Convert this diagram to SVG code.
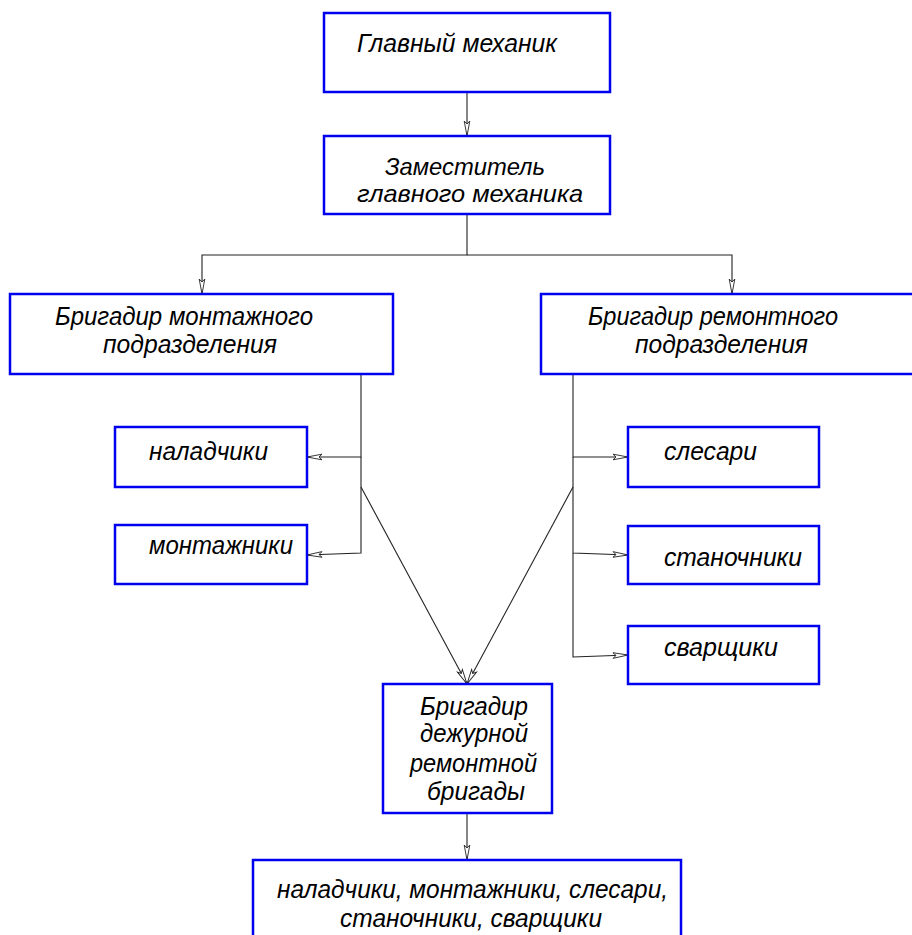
<svg xmlns="http://www.w3.org/2000/svg" width="912" height="935" viewBox="0 0 912 935">
<defs>
<marker id="arr" markerUnits="userSpaceOnUse" markerWidth="18" markerHeight="8" viewBox="-1 -4 18 8" refX="15" refY="0" orient="auto">
<path d="M15,0 L0,-2.8 L3,0 L0,2.8 Z" fill="#fff" stroke="#222" stroke-width="0.9"/>
</marker>
</defs>
<style>
.box{fill:#fff;stroke:#0000ee;stroke-width:2.5}
.t{font-family:"Liberation Sans",Arial,sans-serif;font-style:italic;font-size:26px;fill:#000}
.s{font-size:24px}
.c{fill:none;stroke:#222;stroke-width:1.1}
</style>
<rect width="912" height="935" fill="#fff"/>
<g id="connectors">
<line class="c" x1="467" y1="92" x2="467" y2="136" marker-end="url(#arr)"/>
<polyline class="c" points="467,214 467,255 202,255 202,294" marker-end="url(#arr)"/>
<polyline class="c" points="467,255 732,255 732,294" marker-end="url(#arr)"/>
<polyline class="c" points="361,374 361,457 307,457" marker-end="url(#arr)"/>
<polyline class="c" points="361,457 361,553 307,555" marker-end="url(#arr)"/>
<line class="c" x1="361" y1="487" x2="467" y2="684" marker-end="url(#arr)"/>
<polyline class="c" points="573,374 573,457 628,457" marker-end="url(#arr)"/>
<polyline class="c" points="573,457 573,553 628,555" marker-end="url(#arr)"/>
<polyline class="c" points="573,553 573,657 628,655" marker-end="url(#arr)"/>
<line class="c" x1="573" y1="487" x2="467" y2="684" marker-end="url(#arr)"/>
<line class="c" x1="467" y1="813" x2="467" y2="860" marker-end="url(#arr)"/>
</g>
<g id="n1">
<rect class="box" x="324" y="13" width="286" height="79"/>
<text class="t" x="357" y="52" textLength="200" lengthAdjust="spacingAndGlyphs">Главный механик</text>
</g>
<g id="n2">
<rect class="box" x="324" y="136" width="286" height="78"/>
<text class="t s" x="385" y="175" textLength="160" lengthAdjust="spacingAndGlyphs">Заместитель</text>
<text class="t s" x="357" y="202" textLength="226" lengthAdjust="spacingAndGlyphs">главного механика</text>
</g>
<g id="n3">
<rect class="box" x="10" y="294" width="383" height="80"/>
<text class="t" x="55" y="325" textLength="258" lengthAdjust="spacingAndGlyphs">Бригадир монтажного</text>
<text class="t" x="103" y="353" textLength="174" lengthAdjust="spacingAndGlyphs">подразделения</text>
</g>
<g id="n4">
<rect class="box" x="541" y="294" width="380" height="80"/>
<text class="t" x="588" y="325" textLength="250" lengthAdjust="spacingAndGlyphs">Бригадир ремонтного</text>
<text class="t" x="635" y="353" textLength="173" lengthAdjust="spacingAndGlyphs">подразделения</text>
</g>
<g id="n5">
<rect class="box" x="115" y="427" width="192" height="60"/>
<text class="t" x="149" y="460" textLength="119" lengthAdjust="spacingAndGlyphs">наладчики</text>
</g>
<g id="n6">
<rect class="box" x="115" y="525" width="192" height="59"/>
<text class="t" x="149" y="554" textLength="144" lengthAdjust="spacingAndGlyphs">монтажники</text>
</g>
<g id="n7">
<rect class="box" x="628" y="427" width="191" height="60"/>
<text class="t" x="664" y="460" textLength="93" lengthAdjust="spacingAndGlyphs">слесари</text>
</g>
<g id="n8">
<rect class="box" x="628" y="526" width="191" height="58"/>
<text class="t" x="664" y="566" textLength="138" lengthAdjust="spacingAndGlyphs">станочники</text>
</g>
<g id="n9">
<rect class="box" x="628" y="626" width="191" height="58"/>
<text class="t" x="664" y="656" textLength="114" lengthAdjust="spacingAndGlyphs">сварщики</text>
</g>
<g id="n10">
<rect class="box" x="383" y="684" width="169" height="129"/>
<text class="t" x="420" y="715" textLength="108" lengthAdjust="spacingAndGlyphs">Бригадир</text>
<text class="t" x="420" y="742" textLength="108" lengthAdjust="spacingAndGlyphs">дежурной</text>
<text class="t" x="410" y="772" textLength="127" lengthAdjust="spacingAndGlyphs">ремонтной</text>
<text class="t" x="427" y="800" textLength="98" lengthAdjust="spacingAndGlyphs">бригады</text>
</g>
<g id="n11">
<rect class="box" x="253" y="860" width="428" height="90"/>
<text class="t" x="277" y="898" textLength="391" lengthAdjust="spacingAndGlyphs">наладчики, монтажники, слесари,</text>
<text class="t" x="340" y="927" textLength="262" lengthAdjust="spacingAndGlyphs">станочники, сварщики</text>
</g>
</svg>
